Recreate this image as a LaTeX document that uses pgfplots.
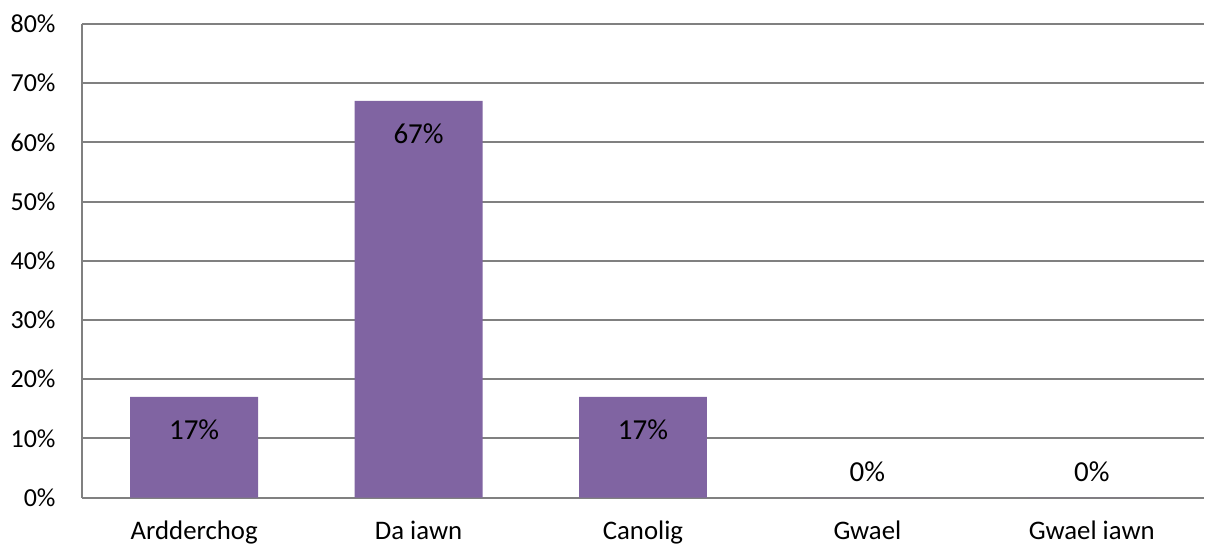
\documentclass[border=0pt]{standalone}
\usepackage{fontspec}
\setmainfont{Carlito}
\usepackage{pgfplots}
\pgfplotsset{compat=1.18}
\usetikzlibrary{calc}
\definecolor{barpurple}{RGB}{128,100,162}
\definecolor{gridgray}{RGB}{128,128,128}
\begin{document}
\begin{tikzpicture}
\begin{axis}[
    scale only axis,
    width=561.5pt,
    height=237pt,
    ymin=0, ymax=80,
    xmin=-0.5, xmax=4.5,
    ytick={0,10,...,80},
    xtick=data,
    xticklabels={Ardderchog,Da iawn,Canolig,Gwael,Gwael iawn},
    yticklabel={\pgfmathprintnumber{\tick}\%},
    /pgf/number format/assume math mode=true,
    font=\fontsize{13}{15}\selectfont,
    ymajorgrids,
    grid style={gridgray, line width=1pt},
    axis x line*=bottom,
    axis y line*=left,
    axis line style={gridgray, line width=1pt, -},
    major tick length=0pt,
    yticklabel style={anchor=east, inner sep=0pt, xshift=-13pt},
    xticklabel style={anchor=base, inner sep=0pt, yshift=-21pt,
        font=\fontsize{13.4}{15}\selectfont},
    clip=false,
]
% bars
\addplot[ybar, bar width=0.57, fill=barpurple, draw=none] coordinates {
    (0,17) (1,67) (2,17) (3,0) (4,0)
};
% value labels, placed where the original shows them
\addplot[draw=none, mark=none, point meta=explicit,
    nodes near coords={\pgfmathprintnumber{\pgfplotspointmeta}\%},
    every node near coord/.append style={anchor=center, inner sep=0pt, black,
        font=\fontsize{14.5}{16}\selectfont}]
    table[x=x, y=y, meta=v] {
x y v
0 11.4 17
1 61.5 67
2 11.4 17
3 4.3 0
4 4.3 0
};
\end{axis}
\path ($(current axis.south west)+(-41pt,-23.5pt)$) rectangle ($(current axis.north east)+(0,12pt)$);
\end{tikzpicture}
\end{document}
